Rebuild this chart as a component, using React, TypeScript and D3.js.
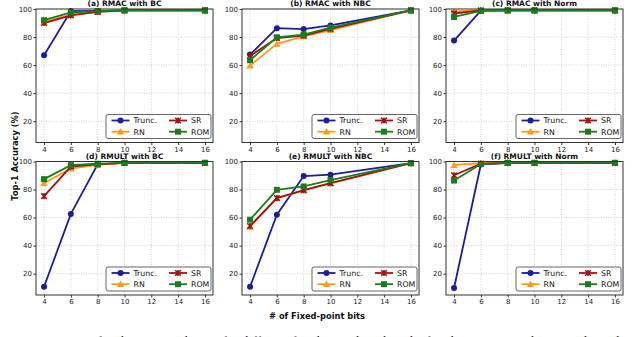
import React, { useEffect, useRef } from "react";
import * as d3 from "d3";

const bits = [4, 6, 8, 10, 16];
const xTicks = [4, 6, 8, 10, 12, 14, 16];
const yTicks = [20, 40, 60, 80, 100];

const seriesNames = ["Trunc.", "RN", "SR", "ROM"];
const seriesColors = ["#1c1c9c", "#ff9a1c", "#a31212", "#1c7c1c"];
const seriesMarkers = ["circle", "triangle", "x", "square"];

const panelTitles = [
  "(a) RMAC with BC",
  "(b) RMAC with NBC",
  "(c) RMAC with Norm",
  "(d) RMULT with BC",
  "(e) RMULT with NBC",
  "(f) RMULT with Norm",
];

// per panel: Trunc., RN, SR, ROM
const rmacBC = [
  [67, 98.5, 98.6, 99, 99],
  [91, 96, 98, 99, 99],
  [90, 95.5, 98, 99, 99],
  [92, 97.5, 98.5, 99, 99],
];
const rmacNBC = [
  [67.5, 86.3, 85.7, 88.3, 99],
  [59.6, 75.2, 80.5, 85, 99],
  [66.5, 79.3, 81, 85.8, 99],
  [63.5, 79.8, 81.8, 86.8, 99],
];
const rmacNorm = [
  [77.5, 98.8, 99, 99, 99],
  [98.3, 99, 99, 99, 99],
  [96.8, 99, 99, 99, 99],
  [94.3, 98.6, 99, 99, 99],
];
const rmultBC = [
  [10.7, 62.6, 97.9, 99, 99],
  [84.6, 95, 97.6, 99, 99],
  [75.3, 96.4, 98, 99, 99],
  [87.4, 97.4, 98.4, 99, 99],
];
const rmultNBC = [
  [10.7, 62, 89.6, 90.6, 98.8],
  [53.4, 73.8, 79.4, 84.4, 98.8],
  [54, 73.9, 79.6, 84.6, 98.8],
  [58.5, 79.8, 82.2, 86.7, 98.8],
];
const rmultNorm = [
  [9.8, 97.9, 98.8, 99, 99],
  [97.5, 98.8, 99, 99, 99],
  [90.2, 98.5, 99, 99, 99],
  [86.4, 98.2, 99, 99, 99],
];

const panelData = [rmacBC, rmacNBC, rmacNorm, rmultBC, rmultNBC, rmultNorm];

const colLeft = [36, 242, 446];
const plotW = 177;
const rowTop = [9, 161.5];
const plotH = 133.5;

const App = () => {
  const svgRef = useRef<SVGSVGElement>(null);

  useEffect(() => {
    const width = 640;
    const height = 337;
    const svg = d3.select(svgRef.current);
    svg.selectAll("*").remove();
    svg.attr("width", width).attr("height", height);
    svg.append("rect").attr("width", width).attr("height", height).attr("fill", "#fff");

    const font = "DejaVu Sans, sans-serif";

    const drawMarker = (g: any, type: string, cx: number, cy: number, color: string) => {
      if (type === "circle") {
        g.append("circle").attr("cx", cx).attr("cy", cy).attr("r", 3).attr("fill", color);
      } else if (type === "square") {
        g.append("rect")
          .attr("x", cx - 3).attr("y", cy - 3)
          .attr("width", 6).attr("height", 6)
          .attr("fill", color);
      } else if (type === "triangle") {
        const s = 3.6;
        g.append("path")
          .attr("d", `M${cx},${cy - s}L${cx + s},${cy + s * 0.8}L${cx - s},${cy + s * 0.8}Z`)
          .attr("fill", color);
      } else {
        const s = 2.8;
        g.append("path")
          .attr("d", `M${cx - s},${cy - s}L${cx + s},${cy + s}M${cx - s},${cy + s}L${cx + s},${cy - s}M${cx},${cy - s * 1.1}L${cx},${cy + s * 1.1}`)
          .attr("stroke", color)
          .attr("stroke-width", 1.6)
          .attr("fill", "none");
      }
    };

    panelData.forEach((series, i) => {
      const left = colLeft[i % 3];
      const top = rowTop[Math.floor(i / 3)];
      const g = svg.append("g").attr("transform", `translate(${left},${top})`);

      const x = d3.scaleLinear().domain([3.4, 16.6]).range([0, plotW]);
      const y = d3.scaleLinear().domain([4.8, 100]).range([plotH, 0]);

      // grid
      g.append("g")
        .selectAll("line")
        .data(xTicks)
        .enter()
        .append("line")
        .attr("x1", (d) => x(d)).attr("x2", (d) => x(d))
        .attr("y1", 0).attr("y2", plotH)
        .attr("stroke", "#c8c8c8").attr("stroke-width", 0.8)
        .attr("stroke-dasharray", "1,1.5");
      g.append("g")
        .selectAll("line")
        .data(yTicks)
        .enter()
        .append("line")
        .attr("y1", (d) => y(d)).attr("y2", (d) => y(d))
        .attr("x1", 0).attr("x2", plotW)
        .attr("stroke", "#c8c8c8").attr("stroke-width", 0.8)
        .attr("stroke-dasharray", "1,1.5");

      // axes
      const xAxis = g.append("g")
        .attr("transform", `translate(0,${plotH})`)
        .call(d3.axisBottom(x).tickValues(xTicks).tickSize(2.5).tickPadding(2).tickFormat(d3.format("d")));
      const yAxis = g.append("g")
        .call(d3.axisLeft(y).tickValues(yTicks).tickSize(2.5).tickPadding(1.5).tickFormat(d3.format("d")));
      [xAxis, yAxis].forEach((a) => {
        a.select(".domain").remove();
        a.selectAll("line").attr("stroke", "#333");
        a.selectAll("text").attr("fill", "#222").style("font-size", "7px").style("font-family", font);
      });

      // series
      series.forEach((vals, s) => {
        const pts = bits.map((b, k) => [x(b), y(vals[k])] as [number, number]);
        g.append("path")
          .attr("d", d3.line()(pts))
          .attr("fill", "none")
          .attr("stroke", seriesColors[s])
          .attr("stroke-width", 1.8);
        pts.forEach(([px, py]) => drawMarker(g, seriesMarkers[s], px, py, seriesColors[s]));
      });

      // frame
      g.append("rect")
        .attr("width", plotW).attr("height", plotH)
        .attr("fill", "none").attr("stroke", "#333").attr("stroke-width", 1);

      // title
      g.append("text")
        .attr("x", plotW / 2).attr("y", -3)
        .attr("text-anchor", "middle")
        .style("font-size", "7.5px").style("font-weight", "bold").style("font-family", font)
        .attr("fill", "#111")
        .text(panelTitles[i]);

      // legend
      const lw = 105;
      const lh = 24;
      const lg = g.append("g").attr("transform", `translate(${plotW - lw - 2},${plotH - lh - 4})`);
      lg.append("rect")
        .attr("width", lw).attr("height", lh).attr("rx", 2)
        .attr("fill", "#fff").attr("stroke", "#555").attr("stroke-width", 0.9);
      seriesNames.forEach((name, s) => {
        const col = s === 0 || s === 1 ? 0 : 1;
        const row = s === 0 || s === 2 ? 0 : 1;
        const hx = 5.5 + col * 57.5;
        const hy = 6 + row * 11.2;
        lg.append("line")
          .attr("x1", hx).attr("x2", hx + 18)
          .attr("y1", hy).attr("y2", hy)
          .attr("stroke", seriesColors[s]).attr("stroke-width", 1.8);
        drawMarker(lg, seriesMarkers[s], hx + 9, hy, seriesColors[s]);
        lg.append("text")
          .attr("x", hx + 22).attr("y", hy + 2.8)
          .style("font-size", "7.8px").style("font-family", font)
          .attr("fill", "#111")
          .text(name);
      });
    });

    // shared labels
    svg.append("text")
      .attr("x", 317).attr("y", 318.5)
      .attr("text-anchor", "middle")
      .style("font-size", "8.3px").style("font-weight", "bold").style("font-family", font)
      .attr("fill", "#111")
      .text("# of Fixed-point bits");
    svg.append("text")
      .attr("transform", "translate(18,156) rotate(-90)")
      .attr("text-anchor", "middle")
      .style("font-size", "8.3px").style("font-weight", "bold").style("font-family", font)
      .attr("fill", "#111")
      .text("Top-1 Accuracy (%)");

    // caption (cut off by the page)
    svg.append("text")
      .attr("x", -3).attr("y", 345)
      .style("font-size", "12.5px").style("font-family", "Liberation Serif, serif")
      .attr("fill", "#111")
      .attr("textLength", 646)
      .text("4: Top-1 accuracy for the MNIST dataset for different fixed-point lengths. The fixed-point integer bits are adjusted to a");
  }, []);

  return (
    <div style={{ position: "fixed", left: 0, top: 0 }}>
      <svg ref={svgRef}></svg>
    </div>
  );
};

export default App;
